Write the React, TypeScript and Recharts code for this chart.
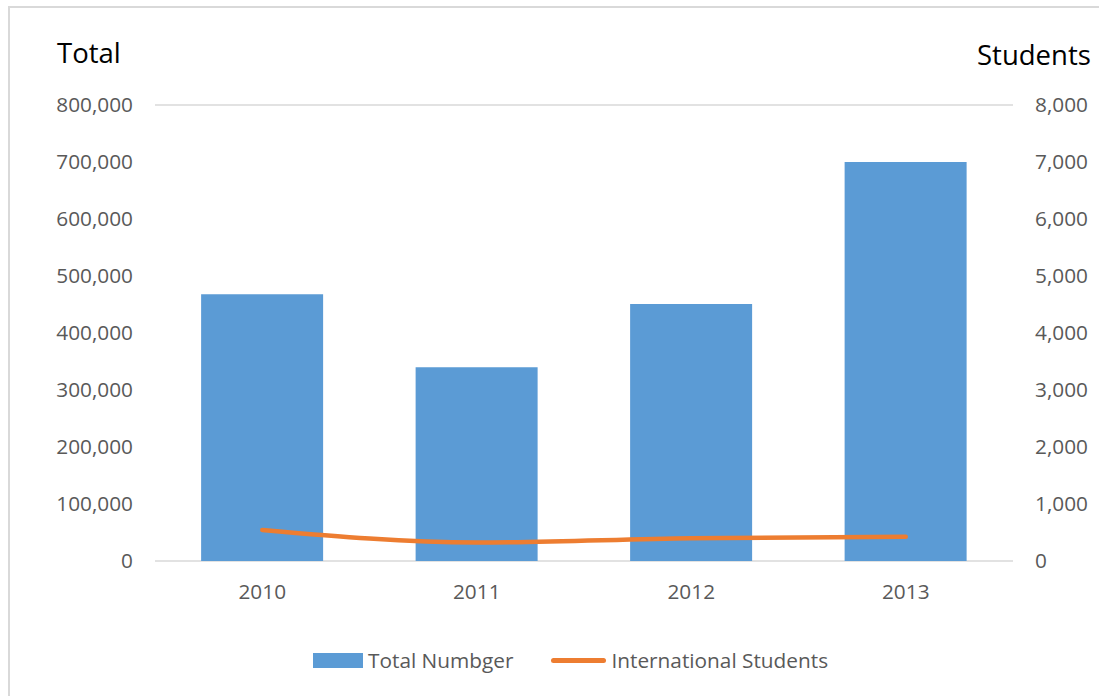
import React from 'react';
import { ComposedChart, Bar, Line, XAxis, YAxis, CartesianGrid } from 'recharts';

const years = ['2010', '2011', '2012', '2013'];
const totalNumber = [468000, 340000, 451000, 700000];
const internationalStudents = [545, 325, 400, 425];
const leftTicks = [0, 100000, 200000, 300000, 400000, 500000, 600000, 700000, 800000];
const rightTicks = [0, 1000, 2000, 3000, 4000, 5000, 6000, 7000, 8000];

const data = years.map((y, i) => ({ year: y, total: totalNumber[i], intl: internationalStudents[i] }));

const FONT = '"Open Sans", "Noto Sans", sans-serif';
const BLUE = '#5B9BD5';
const ORANGE = '#ED7D31';
const TICK = '#595959';
const FS = 20.8;

const fmt = (v: number) => v.toLocaleString('en-US');

export default function App() {
  return (
    <div style={{ position: 'absolute', left: 0, top: 0, width: 1099, height: 696, background: '#fff', fontFamily: FONT, overflow: 'hidden' }}>
      <div style={{ position: 'absolute', left: 8, top: 6, width: 1200, height: 800, borderTop: '2px solid #d9d9d9', borderLeft: '2px solid #d9d9d9' }} />
      <ComposedChart
        width={1099}
        height={696}
        data={data}
        margin={{ top: 105, right: 0, left: 0, bottom: 95 }}
        barCategoryGap="21.5%"
      >
        <CartesianGrid vertical={false} stroke="#d9d9d9" strokeWidth={1.3} />
        <XAxis
          dataKey="year"
          height={40}
          axisLine={false}
          tickLine={false}
          tickSize={0}
          tickMargin={23}
          tick={{ fill: TICK, fontSize: FS, fontFamily: FONT }}
        />
        <YAxis
          yAxisId="left"
          width={155}
          domain={[0, 800000]}
          ticks={leftTicks}
          tickFormatter={fmt}
          axisLine={false}
          tickLine={false}
          tickSize={0}
          tickMargin={22}
          tick={{ fill: TICK, fontSize: FS, fontFamily: FONT }}
        />
        <YAxis
          yAxisId="right"
          orientation="right"
          width={86}
          domain={[0, 8000]}
          ticks={rightTicks}
          tickFormatter={fmt}
          axisLine={false}
          tickLine={false}
          tickSize={0}
          tickMargin={22}
          tick={{ fill: TICK, fontSize: FS, fontFamily: FONT, textAnchor: 'start' }}
        />
        <Bar yAxisId="left" dataKey="total" name="Total Numbger" fill={BLUE} isAnimationActive={false} />
        <Line
          yAxisId="right"
          dataKey="intl"
          name="International Students"
          type="monotone"
          stroke={ORANGE}
          strokeWidth={4.5}
          strokeLinecap="round"
          dot={false}
          activeDot={false}
          isAnimationActive={false}
        />
      </ComposedChart>
      <div style={{ position: 'absolute', left: 57, top: 34, fontSize: 27.5, color: '#000' }}>Total</div>
      <div style={{ position: 'absolute', left: 977, top: 36, fontSize: 27.5, color: '#000' }}>Students</div>
      <div style={{ position: 'absolute', top: 646, left: 313, display: 'flex', alignItems: 'center', fontSize: FS, color: TICK }}>
        <span style={{ display: 'inline-block', width: 50, height: 15, background: BLUE, marginRight: 5 }} />
        <span>Total Numbger</span>
        <span style={{ display: 'inline-block', width: 55, height: 5, borderRadius: 3, background: ORANGE, marginLeft: 38, marginRight: 5 }} />
        <span>International Students</span>
      </div>
    </div>
  );
}
